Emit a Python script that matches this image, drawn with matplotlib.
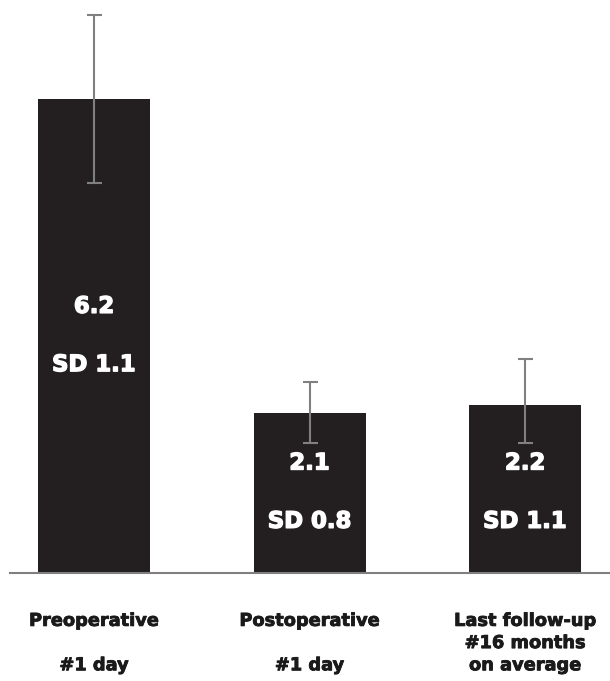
import matplotlib.pyplot as plt
import matplotlib.patheffects as pe
import numpy as np

# Data.
categories = ["Preoperative\n\n#1 day", "Postoperative\n\n#1 day",
              "Last follow-up\n#16 months\non average"]
means = [6.2, 2.1, 2.2]
err_low = [1.1, 0.4, 0.5]
err_high = [1.1, 0.4, 0.6]
value_labels = ["6.2", "2.1", "2.2"]
sd_labels = ["SD 1.1", "SD 0.8", "SD 1.1"]

# Layout: height (data units) of the value label inside each bar.
label_y = [3.49, 1.44, 1.44]

bar_color = "#231f20"
grey = "#808080"
text_dark = "#1a1a1a"

# Thicken the bold glyphs a little, the original uses a heavier face.
heavy_white = [pe.withStroke(linewidth=1.0, foreground="white")]
heavy_dark = [pe.withStroke(linewidth=0.6, foreground=text_dark)]

fig = plt.figure(figsize=(6.10, 6.81), dpi=100)
ax = fig.add_axes([10 / 610, 108 / 681, 600 / 610, 573 / 681])

x = np.arange(len(categories))
ax.bar(x, means, width=0.52, color=bar_color, zorder=2)
ax.errorbar(x, means, yerr=[err_low, err_high], fmt="none", ecolor=grey,
            elinewidth=1.5, capsize=5.4, capthick=1.5, zorder=3)

# White value / SD labels inside the bars.
for xi, yi, val, sd in zip(x, label_y, value_labels, sd_labels):
    ax.text(xi, yi, val, color="white", fontsize=16.4, fontweight="bold",
            ha="center", va="center", zorder=4, path_effects=heavy_white)
    ax.annotate(sd, (xi, yi), xytext=(0, -42), textcoords="offset points",
                color="white", fontsize=16.4, fontweight="bold",
                ha="center", va="center", zorder=4, path_effects=heavy_white)

ax.set_xlim(-0.39, 2.394)
ax.set_ylim(0, 7.5)

ax.set_xticks(x, categories, fontsize=12.8, fontweight="bold",
              linespacing=1.3, color=text_dark)
for lbl in ax.get_xticklabels():
    lbl.set_path_effects(heavy_dark)
ax.tick_params(axis="x", length=0, pad=28)
ax.set_yticks([])

for side in ["top", "right", "left"]:
    ax.spines[side].set_visible(False)
ax.spines["bottom"].set_color(grey)
ax.spines["bottom"].set_linewidth(1.5)

fig.savefig("out.png", dpi=100)
plt.close(fig)
